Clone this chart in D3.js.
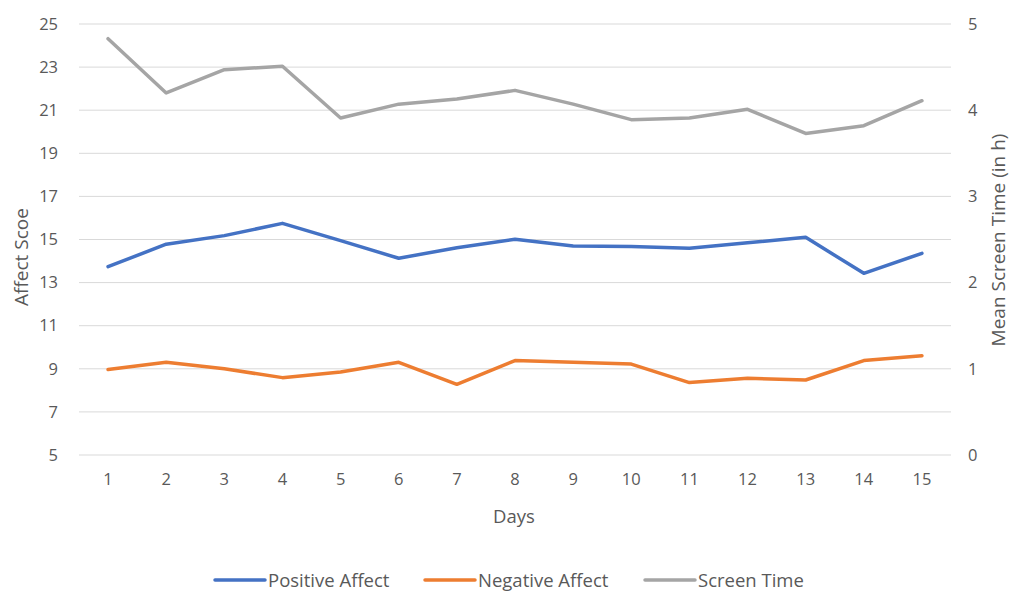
<!DOCTYPE html>
<html>
<head>
<meta charset="utf-8">
<script src="https://cdn.jsdelivr.net/npm/d3@7"></script>
<style>
  html, body { margin: 0; padding: 0; background: #fff; }
  svg text { font-family: "Open Sans", "Liberation Sans", sans-serif; fill: #595959; }
</style>
</head>
<body>
<svg id="chart" width="1012" height="591"></svg>
<script>
// Daily values
const days = [1, 2, 3, 4, 5, 6, 7, 8, 9, 10, 11, 12, 13, 14, 15];
const positiveAffect = [13.74, 14.78, 15.18, 15.75, 14.95, 14.13, 14.62, 15.01, 14.70, 14.67, 14.59, 14.85, 15.10, 13.43, 14.36];
const negativeAffect = [8.97, 9.30, 9.00, 8.59, 8.85, 9.30, 8.28, 9.38, 9.30, 9.22, 8.36, 8.56, 8.48, 9.38, 9.61];
const screenTime = [4.83, 4.20, 4.47, 4.51, 3.91, 4.07, 4.13, 4.23, 4.07, 3.89, 3.91, 4.01, 3.73, 3.82, 4.11];

const leftTicks = [5, 7, 9, 11, 13, 15, 17, 19, 21, 23, 25];
const rightTicks = [0, 1, 2, 3, 4, 5];

const seriesNames = ["Positive Affect", "Negative Affect", "Screen Time"];
const seriesColors = ["#4472C4", "#ED7D31", "#A5A5A5"];

const svg = d3.select("#chart");
const plot = { left: 79, right: 951, top: 24, bottom: 455 };

const x = d3.scaleBand().domain(days).range([plot.left, plot.right]);
const yLeft = d3.scaleLinear().domain([5, 25]).range([plot.bottom, plot.top]);
const yRight = d3.scaleLinear().domain([0, 5]).range([plot.bottom, plot.top]);

// Horizontal gridlines
svg.append("g")
  .selectAll("line")
  .data(leftTicks)
  .join("line")
  .attr("x1", plot.left).attr("x2", plot.right)
  .attr("y1", d => yLeft(d)).attr("y2", d => yLeft(d))
  .attr("stroke", "#D9D9D9").attr("stroke-width", 1);

// Left axis
const gLeft = svg.append("g")
  .attr("transform", `translate(${plot.left},0)`)
  .call(d3.axisLeft(yLeft).tickValues(leftTicks).tickFormat(d3.format("d")).tickSize(0).tickPadding(21));
gLeft.select(".domain").remove();

// Right axis
const gRight = svg.append("g")
  .attr("transform", `translate(${plot.right},0)`)
  .call(d3.axisRight(yRight).tickValues(rightTicks).tickFormat(d3.format("d")).tickSize(0).tickPadding(17));
gRight.select(".domain").remove();

// Bottom axis
const gBottom = svg.append("g")
  .attr("transform", `translate(0,${plot.bottom})`)
  .call(d3.axisBottom(x).tickSize(0).tickPadding(18));
gBottom.select(".domain").remove();

svg.selectAll(".tick text").attr("font-size", 16.5).attr("fill", "#595959")
  .attr("font-family", "'Open Sans', 'Liberation Sans', sans-serif");

// Axis titles
svg.append("text")
  .attr("transform", "translate(28,257) rotate(-90)")
  .attr("text-anchor", "middle")
  .attr("font-size", 19)
  .text("Affect Scoe");

svg.append("text")
  .attr("transform", "translate(1005,240) rotate(-90)")
  .attr("text-anchor", "middle")
  .attr("font-size", 19)
  .text("Mean Screen Time (in h)");

svg.append("text")
  .attr("x", 514).attr("y", 523)
  .attr("text-anchor", "middle")
  .attr("font-size", 18.5)
  .text("Days");

// Lines
const cx = d => x(d) + x.bandwidth() / 2;
const series = [
  { values: positiveAffect, scale: yLeft },
  { values: negativeAffect, scale: yLeft },
  { values: screenTime, scale: yRight }
];

series.forEach((s, i) => {
  const line = d3.line()
    .x((d, j) => cx(days[j]))
    .y(d => s.scale(d));
  svg.append("path")
    .datum(s.values)
    .attr("d", line)
    .attr("fill", "none")
    .attr("stroke", seriesColors[i])
    .attr("stroke-width", 3.5)
    .attr("stroke-linejoin", "round")
    .attr("stroke-linecap", "round");
});

// Legend
const legendX = [215, 425, 645];
const legend = svg.append("g");
seriesNames.forEach((name, i) => {
  const g = legend.append("g").attr("transform", `translate(${legendX[i]},580)`);
  g.append("line")
    .attr("x1", 0).attr("x2", 50)
    .attr("stroke", seriesColors[i]).attr("stroke-width", 3.5)
    .attr("stroke-linecap", "round");
  g.append("text")
    .attr("x", 53).attr("y", 6.5)
    .attr("font-size", 18.5)
    .text(name);
});
</script>
</body>
</html>
